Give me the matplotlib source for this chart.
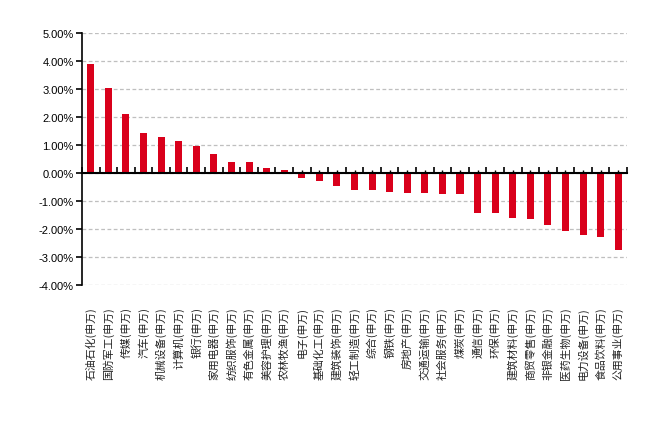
import matplotlib.pyplot as plt
import matplotlib.transforms as mtransforms
from matplotlib.ticker import FixedLocator, FuncFormatter

industries = ["石油石化", "国防军工", "传媒", "汽车", "机械设备", "计算机", "银行",
              "家用电器", "纺织服饰", "有色金属", "美容护理", "农林牧渔", "电子",
              "基础化工", "建筑装饰", "轻工制造", "综合", "钢铁", "房地产", "交通运输",
              "社会服务", "煤炭", "通信", "环保", "建筑材料", "商贸零售", "非银金融",
              "医药生物", "电力设备", "食品饮料", "公用事业"]
labels = [name + "(申万)" for name in industries]
changes = [3.89, 3.04, 2.11, 1.43, 1.29, 1.14, 0.96, 0.68, 0.39, 0.39, 0.18, 0.11,
           -0.17, -0.29, -0.46, -0.61, -0.61, -0.68, -0.71, -0.71, -0.75, -0.75,
           -1.43, -1.43, -1.61, -1.64, -1.86, -2.07, -2.21, -2.29, -2.75]
yticks = [5, 4, 3, 2, 1, 0, -1, -2, -3, -4]

fig = plt.figure(figsize=(6.66, 4.35), dpi=100)
ax = fig.add_axes([82 / 666, 1 - 286 / 435, 545 / 666, 252 / 435])

x = list(range(len(changes)))
ax.bar(x, changes, width=0.4, color="#D9001B", zorder=3)

ax.set_xlim(-0.5, len(changes) - 0.5)
ax.set_ylim(-4, 5)
ax.set_yticks(yticks)
ax.yaxis.set_major_formatter(FuncFormatter(lambda v, p: f"{v:.2f}%"))
ax.grid(axis="y", linestyle=(0, (3, 2)), color="#BFBFBF", linewidth=0.9, zorder=0)

for s in ["top", "right"]:
    ax.spines[s].set_visible(False)
ax.spines["left"].set_linewidth(1.2)
ax.spines["bottom"].set_position(("data", 0))
ax.spines["bottom"].set_linewidth(1.5)
ax.spines["bottom"].set_zorder(4)

# ticks on the zero line: long ones between categories, short ones at centres
ax.xaxis.set_major_locator(FixedLocator([i - 0.5 for i in range(len(changes) + 1)]))
ax.xaxis.set_minor_locator(FixedLocator(x))
ax.tick_params(axis="x", which="major", direction="in", length=4, width=1.2, labelbottom=False)
ax.tick_params(axis="x", which="minor", direction="in", length=2, width=1.0)
ax.tick_params(axis="y", direction="out", length=4, width=1.2, labelsize=8, pad=2)
for t in ax.get_yticklabels():
    t.set_fontfamily("Liberation Sans")

# category names sit under the plot area, not under the zero line
trans = mtransforms.blended_transform_factory(ax.transData, ax.transAxes)
for i, lab in enumerate(labels):
    ax.text(i, -0.083, lab, rotation=90, ha="center", va="top", transform=trans,
            fontsize=7.8, color="#222222", family=["Noto Sans CJK SC", "DejaVu Sans"])

fig.savefig("out.png", dpi=100)
